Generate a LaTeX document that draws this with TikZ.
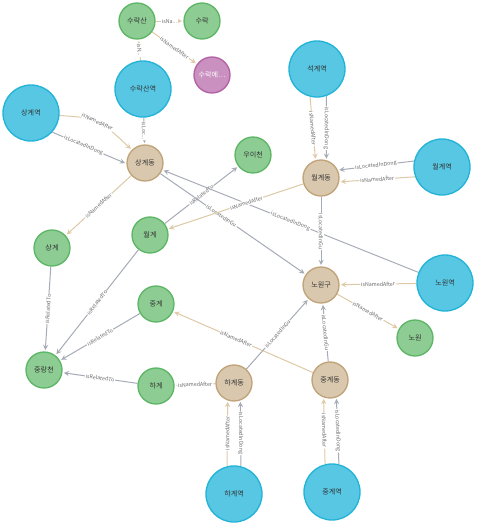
\documentclass[tikz,border=0pt]{standalone}
\usepackage{fontspec}
\setmainfont{Noto Sans CJK KR}
\usepackage{xcolor}
\usepackage{tikz}
\usetikzlibrary{arrows, positioning, backgrounds}
\definecolor{stnfill}{HTML}{57C7E3}
\definecolor{stndraw}{HTML}{23B3D7}
\definecolor{dongfill}{HTML}{D9C8AE}
\definecolor{dongdraw}{HTML}{C0A378}
\definecolor{placefill}{HTML}{8DCC93}
\definecolor{placedraw}{HTML}{5DB665}
\definecolor{otherfill}{HTML}{C990C0}
\definecolor{otherdraw}{HTML}{B261A5}
\definecolor{namedline}{HTML}{DEC9A6}
\definecolor{locline}{HTML}{A5ABB6}
\definecolor{lbltext}{HTML}{6B6B6B}
\definecolor{textdark}{HTML}{333333}

\begin{document}
\begin{tikzpicture}[x=0.75pt, y=-0.75pt,
    station/.style={circle, draw=stndraw, fill=stnfill, line width=1pt, minimum size=42pt, inner sep=0pt, font=\fontsize{5.3}{6}\selectfont, text=textdark},
    dong/.style={circle, draw=dongdraw, fill=dongfill, line width=1pt, minimum size=27pt, inner sep=0pt, font=\fontsize{5.3}{6}\selectfont, text=textdark},
    place/.style={circle, draw=placedraw, fill=placefill, line width=1pt, minimum size=27pt, inner sep=0pt, font=\fontsize{5.3}{6}\selectfont, text=textdark},
    other/.style={circle, draw=otherdraw, fill=otherfill, line width=1pt, minimum size=27pt, inner sep=0pt, font=\fontsize{5.3}{6}\selectfont, text=white},
    named/.style={->, >=stealth, draw=namedline, line width=0.75pt, shorten >=1pt},
    located/.style={->, >=stealth, draw=locline, line width=0.75pt, shorten >=1pt},
    lbl/.style={font=\fontsize{4}{4}\selectfont, text=lbltext, fill=white, inner sep=0.6pt, sloped, midway}
]
\useasboundingbox (0,0) rectangle (476,525);

% nodes
\node[place] (surakmt) at (137,21) {수락산};
\node[place] (surak) at (202,21) {수락};
\node[other] (surakE) at (212,75) {수락에…};
\node[station] (surakStn) at (143,89) {수락산역};
\node[station] (sanggyeStn) at (31,113) {상계역};
\node[dong] (sanggyeDong) at (145,163) {상계동};
\node[place] (uicheon) at (253,155) {우이천};
\node[station] (seokgyeStn) at (317,69) {석계역};
\node[dong] (wolgyeDong) at (321,178) {월계동};
\node[station] (wolgyeStn) at (442,167) {월계역};
\node[place] (sanggye) at (52,248) {상계};
\node[place] (wolgye) at (150,235) {월계};
\node[place] (junggye) at (156,304) {중계};
\node[place] (jungnang) at (44,370) {중랑천};
\node[dong] (nowonGu) at (321,285) {노원구};
\node[station] (nowonStn) at (445,283) {노원역};
\node[place] (nowon) at (415,338) {노원};
\node[place] (hagye) at (156,386) {하계};
\node[dong] (hagyeDong) at (234,383) {하계동};
\node[dong] (junggyeDong) at (330,380) {중계동};
\node[station] (hagyeStn) at (234,494) {하계역};
\node[station] (junggyeStn) at (332,492) {중계역};

% relations
\begin{scope}[on background layer]
\draw[named] (surakmt) -- node[lbl]{isNa...} (surak);
\draw[named] (surakmt) -- node[lbl]{isNamedAfter} (surakE);
\draw[named] (surakStn) -- node[lbl]{isN...} (surakmt);
\draw[located] (surakStn) -- node[lbl]{isLoc...} (sanggyeDong);
\draw[named] (sanggyeStn.-5) .. controls (98,118) .. node[lbl, pos=0.5]{isNamedAfter} (sanggyeDong.135);
\draw[located] (sanggyeStn.-42) -- node[lbl, pos=0.42]{isLocatedInDong} (sanggyeDong.182);
\draw[named] (sanggyeDong) -- node[lbl]{isNamedAfter} (sanggye);
\draw[located] (wolgye) -- node[lbl]{isRelatedTo} (uicheon);
\draw[located] (nowonStn) -- node[lbl]{isLocatedInDong} (sanggyeDong);
\draw[located] (sanggyeDong) -- node[lbl, pos=0.42]{isLocatedInGu} (nowonGu);
\draw[named] (wolgyeDong) -- node[lbl, pos=0.42]{isNamedAfter} (wolgye);
\draw[named] (seokgyeStn.-104) -- node[lbl]{isNamedAfter} (wolgyeDong.107);
\draw[located] (seokgyeStn.-71) -- node[lbl]{isLocatedInDong} (wolgyeDong.73);
\draw[located] (wolgyeStn.168) -- node[lbl]{isLocatedInDong} (wolgyeDong.25);
\draw[named] (wolgyeStn.200) -- node[lbl]{isNamedAfter} (wolgyeDong.-12);
\draw[located] (wolgyeDong) -- node[lbl]{isLocatedInGu} (nowonGu);
\draw[located] (sanggye) -- node[lbl]{isRelatedTo} (jungnang);
\draw[located] (wolgye) -- node[lbl]{isRelatedTo} (jungnang);
\draw[located] (junggye) -- node[lbl]{isRelatedTo} (jungnang);
\draw[located] (hagye) -- node[lbl]{isRelatedTo} (jungnang);
\draw[named] (nowonStn) -- node[lbl]{isNamedAfter} (nowonGu);
\draw[named] (nowonGu) -- node[lbl]{isNamedAfter} (nowon);
\draw[named] (junggyeDong) -- node[lbl, pos=0.55]{isNamedAfter} (junggye);
\draw[located] (hagyeDong) -- node[lbl]{isLocatedInGu} (nowonGu);
\draw[located] (junggyeDong) -- node[lbl]{isLocatedInGu} (nowonGu);
\draw[named] (hagyeDong) -- node[lbl]{isNamedAfter} (hagye);
\draw[named] (hagyeStn.104) -- node[lbl]{isNamedAfter} (hagyeDong.-110);
\draw[located] (hagyeStn.76) -- node[lbl]{isLocatedInDong} (hagyeDong.-70);
\draw[named] (junggyeStn.104) -- node[lbl]{isNamedAfter} (junggyeDong.-110);
\draw[located] (junggyeStn.76) -- node[lbl]{isLocatedInDong} (junggyeDong.-70);
\end{scope}

\end{tikzpicture}
\end{document}
